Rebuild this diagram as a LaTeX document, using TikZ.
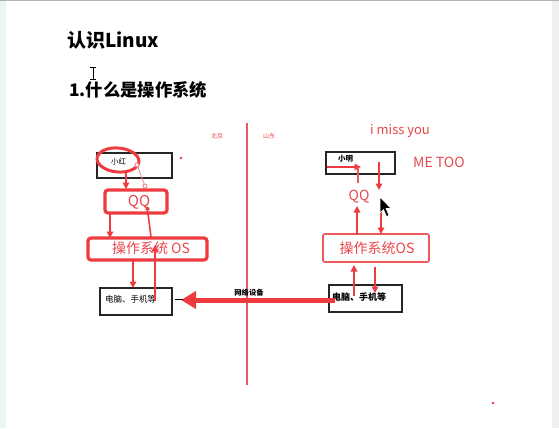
\documentclass[tikz,border=0pt]{standalone}
\usepackage{fontspec}
\setmainfont{Noto Sans CJK SC}
\usetikzlibrary{arrows.meta}
\definecolor{ink}{HTML}{EE3B3F}
\definecolor{txtred}{HTML}{E8474C}
\definecolor{lred}{HTML}{EC5A5E}
\definecolor{mint}{HTML}{EAF6F0}
\begin{document}
\begin{tikzpicture}[x=1pt,y=-1pt,
  bbox/.style={draw=black!85,line width=1.1pt,inner sep=0pt,rectangle},
  rbox/.style={draw=ink,line width=3.2pt,rounded corners=3pt,inner sep=0pt},
  rboxthin/.style={draw=lred,line width=1.6pt,rounded corners=2pt,inner sep=0pt},
  rarr/.style={draw=ink,line width=2pt,-{Triangle[length=6.5pt,width=6.5pt]}},
  tiny/.style={font=\fontsize{7.5}{8}\selectfont,inner sep=0pt},
  redtxt/.style={text=txtred,inner sep=0pt}]
\fill[white] (0,0) rectangle (559,428);
\useasboundingbox (0,0) rectangle (559,428);
\fill[mint] (0,0) rectangle (6,428);
\fill[black!6] (552,0) rectangle (559,428);
\draw[black!30,line width=1pt] (0,0.5) -- (559,0.5);

% titles
\node[anchor=west,inner sep=0pt,font=\fontsize{19}{21}\selectfont\bfseries] (title) at (67,40) {认识Linux};
\node[anchor=west,inner sep=0pt,font=\fontsize{17.3}{19}\selectfont\bfseries] (sub) at (69,90) {1.什么是操作系统};
% I-beam cursor
\draw[black,line width=0.9pt] (93,67) -- (93,79) (90,67) -- (96,67) (90,79) -- (96,79);

% divider
\draw[lred,line width=1.3pt] (247,123) -- (247,385);
\node[redtxt,font=\fontsize{6}{7}\selectfont] (bj) at (217,136) {北京};
\node[redtxt,font=\fontsize{6}{7}\selectfont] (sd) at (269,136) {山东};

% left side
\node[bbox,minimum width=75pt,minimum height=25pt] (xh) at (134.5,165.5) {};
\node[tiny,anchor=west] (xht) at (111,162) {小红};
\draw[ink,line width=3pt,rotate around={-5:(118,160)}] (118,160) ellipse (21pt and 12pt);
\fill[ink] (181,158) circle (1.4pt);
\coordinate (p1) at (137,165);
\coordinate (p2) at (145,186);
\draw[lred!70,line width=0.8pt] (p1) -- (p2);
\draw[lred!80,line width=0.8pt,fill=white] (p1) circle (2pt) (p2) circle (2pt);

\node[rbox,minimum width=62pt,minimum height=23pt] (qqL) at (136,201.5) {};
\node[redtxt,font=\fontsize{15}{16}\selectfont] (qqLt) at (139,202) {QQ};
\node[rbox,minimum width=119pt,minimum height=22pt] (osL) at (147.5,249) {};
\node[redtxt,font=\fontsize{14}{15}\selectfont] (osLt) at (151,248) {操作系统 OS};
\node[bbox,minimum width=72pt,minimum height=27pt] (pcL) at (136,301.5) {};
\node[tiny,anchor=west,font=\fontsize{8.5}{9}\selectfont] (pcLt) at (105,299) {电脑、手机等};

\coordinate (a1s) at (126,171);
\coordinate (a1e) at (126,189);
\draw[rarr] (a1s) -- (a1e);
\coordinate (a2s) at (110,213);
\coordinate (a2e) at (110,238);
\draw[rarr] (a2s) -- (a2e);
\coordinate (a3s) at (151,237);
\coordinate (a3e) at (147,206);
\draw[rarr,line width=1.6pt,-{Triangle[length=4pt,width=4.5pt]}] (a3s) -- (a3e);
\coordinate (a4s) at (133,260);
\coordinate (a4e) at (133,288);
\draw[rarr] (a4s) -- (a4e);
\coordinate (a5s) at (155,301);
\coordinate (a5e) at (155,245);
\draw[rarr] (a5s) -- (a5e);

% right side
\node[txtred,inner sep=0pt,font=\fontsize{13}{14}\selectfont,anchor=west] (miss) at (370,131) {i miss you};
\node[txtred,inner sep=0pt,font=\fontsize{14}{15}\selectfont,anchor=west] (metoo) at (413,162) {ME TOO};
\node[bbox,minimum width=69pt,minimum height=22pt] (xm) at (360.5,163) {};
\node[tiny,anchor=west,font=\fontsize{7.5}{8}\selectfont\bfseries] (xmt) at (338,159) {小明};
\node[redtxt,font=\fontsize{14}{15}\selectfont] (qqR) at (359,197) {QQ};
\node[rboxthin,minimum width=106pt,minimum height=28pt] (osR) at (376,248) {};
\node[redtxt,font=\fontsize{14}{15}\selectfont] (osRt) at (377,248) {操作系统OS};
\node[bbox,minimum width=73pt,minimum height=27pt] (pcR) at (365.5,298.5) {};
\node[tiny,anchor=west,font=\fontsize{9}{10}\selectfont\bfseries] (pcRt) at (332,297) {电脑、手机等};

\coordinate (b1s) at (327,167);
\coordinate (b1e) at (361,167);
\draw[rarr] (b1s) -- (b1e);
\coordinate (b1d) at (358,183);
\draw[lred,line width=1.1pt] (358,167) -- (b1d);
\coordinate (b2s) at (379,162);
\coordinate (b2e) at (379,190);
\draw[rarr] (b2s) -- (b2e);
\coordinate (b3s) at (357,235);
\coordinate (b3e) at (357,206);
\draw[rarr] (b3s) -- (b3e);
\coordinate (b4s) at (381,212);
\coordinate (b4e) at (381,234);
\draw[rarr] (b4s) -- (b4e);
\coordinate (b5s) at (354,296);
\coordinate (b5e) at (354,265);
\draw[rarr] (b5s) -- (b5e);
\coordinate (b6s) at (375,267);
\coordinate (b6e) at (375,293);
\draw[rarr] (b6s) -- (b6e);

% mouse pointer
\filldraw[fill=black,draw=white,line width=0.6pt] (380,197) -- (380,213) -- (383.5,209.5) -- (386.5,216.5) -- (389,215.5) -- (386,208.5) -- (391,208.5) -- cycle;

% network arrow
\coordinate (nS) at (335,300);
\coordinate (nE) at (181,300);
\draw[ink,line width=5pt,-{Triangle[length=15pt,width=17pt]}] (nS) -- (nE);
\draw[black,line width=0.9pt] (175,299.5) -- (183,299.5);
\node[inner sep=0pt,font=\fontsize{7.3}{8}\selectfont\bfseries] (net) at (249,293) {网络设备};

\fill[ink] (493,403) circle (1.4pt);
\end{tikzpicture}
\end{document}
